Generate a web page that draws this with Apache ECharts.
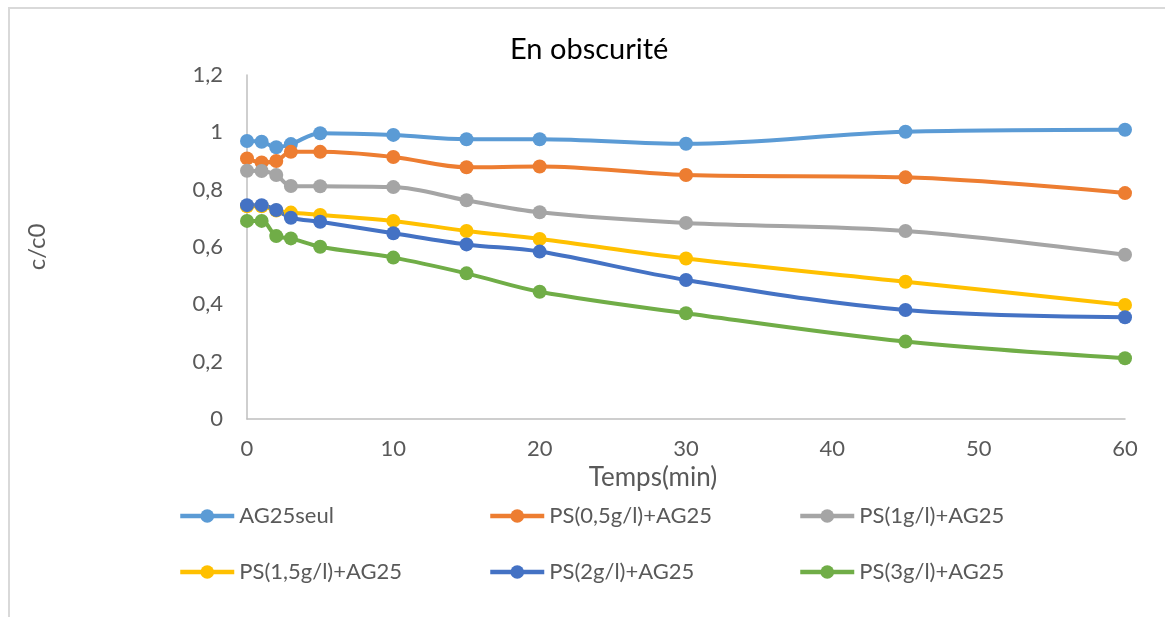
<!DOCTYPE html>
<html>
<head>
<meta charset="utf-8">
<script src="https://cdn.jsdelivr.net/npm/echarts@6/dist/echarts.min.js"></script>
<style>
  html, body { margin: 0; padding: 0; background: #fff; }
  #chart { width: 1165px; height: 617px; }
</style>
</head>
<body>
<div id="chart"></div>
<script>
// Sampling times (min)
var times = [0, 1, 2, 3, 5, 10, 15, 20, 30, 45, 60];

// c/c0 for each condition
var ag25Seul  = [0.970, 0.967, 0.948, 0.959, 0.997, 0.991, 0.976, 0.976, 0.960, 1.002, 1.009];
var ps05Ag25  = [0.909, 0.895, 0.900, 0.932, 0.932, 0.914, 0.878, 0.881, 0.851, 0.843, 0.788];
var ps1Ag25   = [0.866, 0.865, 0.851, 0.813, 0.812, 0.809, 0.763, 0.721, 0.684, 0.656, 0.573];
var ps15Ag25  = [0.742, 0.742, 0.727, 0.720, 0.712, 0.691, 0.656, 0.628, 0.560, 0.479, 0.398];
var ps2Ag25   = [0.746, 0.746, 0.729, 0.702, 0.688, 0.648, 0.609, 0.584, 0.485, 0.380, 0.355];
var ps3Ag25   = [0.691, 0.691, 0.638, 0.630, 0.601, 0.563, 0.508, 0.444, 0.369, 0.270, 0.212];

var seriesNames = ['AG25seul', 'PS(0,5g/l)+AG25', 'PS(1g/l)+AG25',
                   'PS(1,5g/l)+AG25', 'PS(2g/l)+AG25', 'PS(3g/l)+AG25'];
var seriesValues = [ag25Seul, ps05Ag25, ps1Ag25, ps15Ag25, ps2Ag25, ps3Ag25];
var seriesColors = ['#5B9BD5', '#ED7D31', '#A5A5A5', '#FFC000', '#4472C4', '#70AD47'];

// Axis tick labels (French decimal comma)
var yTickLabels = ['0', '0,2', '0,4', '0,6', '0,8', '1', '1,2'];
var xTickLabels = ['0', '10', '20', '30', '40', '50', '60'];

var FONT = 'Lato, "Open Sans", sans-serif';
var TEXT_GREY = '#595959';

var chart = echarts.init(document.getElementById('chart'), null, { renderer: 'canvas' });

var series = seriesNames.map(function (name, i) {
  return {
    name: name,
    type: 'line',
    smooth: 0.35,
    data: times.map(function (t, j) { return [t, seriesValues[i][j]]; }),
    symbol: 'circle',
    symbolSize: 14,
    itemStyle: { color: seriesColors[i] },
    lineStyle: { color: seriesColors[i], width: 4 },
    emphasis: { disabled: true }
  };
});

// Legend laid out as a 3 x 2 grid, one legend component per entry
var legendCols = [178, 488, 798];
var legendRows = [505, 561];
var legends = seriesNames.map(function (name, i) {
  return {
    data: [name],
    left: legendCols[i % 3],
    top: legendRows[Math.floor(i / 3)],
    padding: 0,
    itemWidth: 54,
    itemHeight: 17,
    itemGap: 0,
    lineStyle: { width: 4.5 },
    selectedMode: false,
    textStyle: { color: TEXT_GREY, fontFamily: FONT, fontSize: 22 }
  };
});

chart.setOption({
  animation: false,
  backgroundColor: '#ffffff',
  title: {
    text: 'En obscurité',
    left: 505,
    top: 30,
    textStyle: { color: '#000000', fontFamily: FONT, fontSize: 29, fontWeight: 'normal' }
  },
  legend: legends,
  grid: { left: 247, right: 40, top: 75, bottom: 198, containLabel: false },
  xAxis: {
    type: 'value',
    min: 0,
    max: 60,
    interval: 10,
    name: 'Temps(min)',
    nameLocation: 'middle',
    nameGap: 43,
    nameTextStyle: { color: TEXT_GREY, fontFamily: FONT, fontSize: 26, padding: [0, 66, 0, 0] },
    axisLine: { show: true, lineStyle: { color: '#BFBFBF', width: 1.5 } },
    axisTick: { show: false },
    splitLine: { show: false },
    axisLabel: {
      color: TEXT_GREY, fontFamily: FONT, fontSize: 22, margin: 19,
      formatter: function (v) { return xTickLabels[Math.round(v / 10)]; }
    }
  },
  yAxis: {
    type: 'value',
    min: 0,
    max: 1.2,
    interval: 0.2,
    name: 'c/c0',
    nameLocation: 'middle',
    nameRotate: 90,
    nameGap: 198,
    nameTextStyle: { color: TEXT_GREY, fontFamily: FONT, fontSize: 24 },
    axisLine: { show: true, lineStyle: { color: '#BFBFBF', width: 1.5 } },
    axisTick: { show: false },
    splitLine: { show: false },
    axisLabel: {
      color: TEXT_GREY, fontFamily: FONT, fontSize: 22, margin: 24,
      formatter: function (v) { return yTickLabels[Math.round(v / 0.2)]; }
    }
  },
  graphic: [{
    type: 'polyline',
    shape: { points: [[9, 617], [9, 8], [1165, 8]] },
    style: { stroke: '#D9D9D9', lineWidth: 2, fill: null },
    silent: true
  }],
  series: series
});
</script>
</body>
</html>
